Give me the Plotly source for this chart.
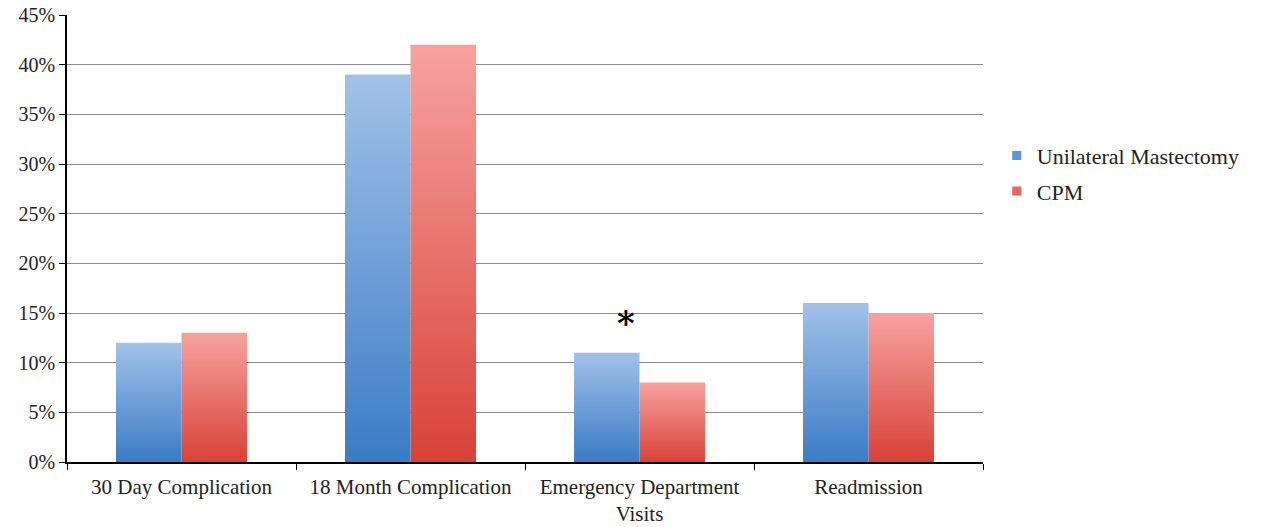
import plotly.graph_objects as go

# Outcome categories and rates (%) for each patient group
categories = ["30 Day Complication", "18 Month Complication",
              "Emergency Department<br>Visits", "Readmission"]
unilateral = [12, 39, 11, 16]
cpm = [13, 42, 8, 15]
series_names = ["Unilateral Mastectomy", "CPM"]
y_ticks = [0, 5, 10, 15, 20, 25, 30, 35, 40, 45]
significant = [False, False, True, False]

BAR_W = 0.286
FONT = "Liberation Serif, Times New Roman, serif"
styles = {
    "Unilateral Mastectomy": dict(bottom="rgb(58,124,198)", top="rgb(162,193,232)",
                                  mid="rgb(92,150,214)", side=-1),
    "CPM": dict(bottom="rgb(216,66,56)", top="rgb(247,162,160)",
                mid="rgb(236,100,96)", side=0),
}

fig = go.Figure()

for name, values in zip(series_names, [unilateral, cpm]):
    st = styles[name]
    for i, v in enumerate(values):
        x0 = i + st["side"] * BAR_W
        x1 = x0 + BAR_W
        fig.add_trace(go.Scatter(
            x=[x0, x1, x1, x0, x0], y=[0, 0, v, v, 0],
            mode="lines", line=dict(width=0),
            fill="toself",
            fillgradient=dict(type="vertical",
                              colorscale=[[0, st["bottom"]], [1, st["top"]]]),
            showlegend=False, hoverinfo="skip",
        ))
    # legend swatch
    fig.add_trace(go.Scatter(
        x=[None], y=[None], mode="markers", name=name,
        marker=dict(symbol="square", size=9, color=st["mid"]),
        legendgroup=name,
    ))

# significance marker
for i, sig in enumerate(significant):
    if sig:
        fig.add_annotation(
            x=i - BAR_W / 2, y=unilateral[i], xshift=19, yshift=8,
            text="<b>*</b>", showarrow=False, yanchor="bottom",
            font=dict(family="DejaVu Serif", size=34, color="black"),
        )

fig.update_layout(
    width=1263, height=527,
    margin=dict(l=67, r=280, t=15, b=65),
    paper_bgcolor="white", plot_bgcolor="white",
    font=dict(family=FONT, size=20, color="#222"),
    legend=dict(x=1.015, y=0.645, xanchor="left", yanchor="middle",
                font=dict(size=22), tracegroupgap=4, itemwidth=30,
                bgcolor="rgba(0,0,0,0)"),
    showlegend=True,
)

fig.update_xaxes(
    range=[-0.5, 3.5], automargin=False,
    tickmode="array", tickvals=list(range(len(categories))), ticktext=categories,
    ticks="", showgrid=False, zeroline=False,
    showline=True, linecolor="black", linewidth=1.5,
    minor=dict(tick0=-0.5, dtick=1, ticks="outside", ticklen=6,
               tickcolor="black", tickwidth=1, showgrid=False),
    tickfont=dict(size=21), ticklabelstandoff=5,
)
fig.update_yaxes(
    range=[0, 45], automargin=False,
    tickmode="array", tickvals=y_ticks, ticktext=[f"{t}%" for t in y_ticks],
    ticks="outside", ticklen=6, tickcolor="black",
    showgrid=True, gridcolor="#8c8c8c", gridwidth=1, zeroline=False,
    showline=True, linecolor="black", linewidth=1.5,
    tickfont=dict(size=20),
)

fig.write_html("out.html")
